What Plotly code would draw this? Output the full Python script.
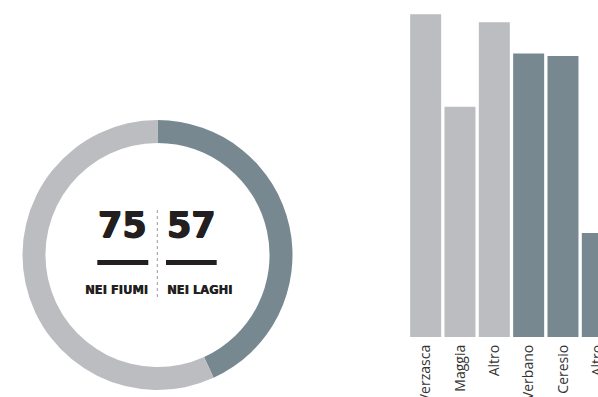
import plotly.graph_objects as go

W, H = 598, 397

# Data
donut_labels = ["Nei laghi", "Nei fiumi"]
donut_values = [57, 75]
bar_labels = ["Verzasca", "Maggia", "Altro", "Verbano", "Ceresio", "Altro"]
bar_values = [27.9, 19.9, 27.2, 24.5, 24.3, 9.0]
bar_group = ["fiumi", "fiumi", "fiumi", "laghi", "laghi", "laghi"]

GRAY = "#bcbdc1"
BLUE = "#778891"
INK = "#231f20"

def px(x):
    return x / W

def py(y):
    return 1 - y / H

fig = go.Figure()

fig.add_trace(go.Pie(
    labels=donut_labels, values=donut_values, sort=False, direction="clockwise",
    hole=0.83, marker=dict(colors=[BLUE, GRAY], line=dict(width=0)),
    textinfo="none", hoverinfo="label+value", showlegend=False,
    domain=dict(x=[px(22.5), px(292.5)], y=[py(390), py(120)]),
))

fig.add_trace(go.Bar(
    x=list(range(len(bar_values))), y=bar_values,
    marker=dict(color=[GRAY if g == "fiumi" else BLUE for g in bar_group], line=dict(width=0)),
    showlegend=False, hovertext=bar_labels, hoverinfo="text+y",
))

fig.update_layout(
    width=W, height=H, margin=dict(l=0, r=0, t=0, b=0, autoexpand=False),
    paper_bgcolor="white", plot_bgcolor="white",
    bargap=0.097,
    xaxis=dict(domain=[408.5 / W, 1], range=[-0.5, 5.02], tickmode="array",
               tickvals=list(range(len(bar_labels))), ticktext=bar_labels,
               tickangle=-90, showgrid=False, zeroline=False, showline=False,
               ticks="", ticklabelstandoff=4, automargin=False,
               ticklabeloverflow="allow",
               tickfont=dict(family="Open Sans", size=14, color="#333333")),
    yaxis=dict(domain=[60 / H, 1], range=[0, 29.13], visible=False, automargin=False),
)

heavy = "0.7px 0 0 #231f20, -0.7px 0 0 #231f20, 0 0.5px 0 #231f20"
light_heavy = "0.4px 0 0 #231f20"

# central texts
fig.add_annotation(x=px(148.5), y=py(225), xref="paper", yref="paper", text="<b>75</b>",
                   showarrow=False, xanchor="right", yanchor="middle",
                   font=dict(family="DejaVu Sans", size=35, color=INK, shadow=heavy))
fig.add_annotation(x=px(164.5), y=py(225), xref="paper", yref="paper", text="<b>57</b>",
                   showarrow=False, xanchor="left", yanchor="middle",
                   font=dict(family="DejaVu Sans", size=35, color=INK, shadow=heavy))
fig.add_annotation(x=px(150), y=py(290), xref="paper", yref="paper", text="<b>NEI FIUMI</b>",
                   showarrow=False, xanchor="right", yanchor="middle",
                   font=dict(family="DejaVu Sans", size=11.5, color=INK, shadow=light_heavy))
fig.add_annotation(x=px(165), y=py(290), xref="paper", yref="paper", text="<b>NEI LAGHI</b>",
                   showarrow=False, xanchor="left", yanchor="middle",
                   font=dict(family="DejaVu Sans", size=11.5, color=INK, shadow=light_heavy))

fig.add_shape(type="rect", xref="paper", yref="paper",
              x0=px(97.3), x1=px(148.3), y0=py(265), y1=py(260),
              fillcolor=INK, line=dict(width=0))
fig.add_shape(type="rect", xref="paper", yref="paper",
              x0=px(166), x1=px(216.7), y0=py(265), y1=py(260),
              fillcolor=INK, line=dict(width=0))
fig.add_shape(type="line", xref="paper", yref="paper",
              x0=px(157.3), x1=px(157.3), y0=py(297), y1=py(210),
              line=dict(color="#9a9a9a", width=1, dash="dot"))

fig.write_html("out.html")
